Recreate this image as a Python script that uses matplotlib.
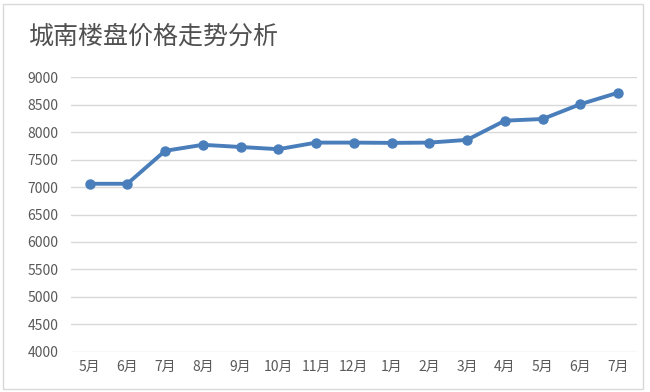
import matplotlib
matplotlib.use("Agg")
import matplotlib.pyplot as plt
from matplotlib.patches import Rectangle

plt.rcParams['font.family'] = ['Noto Sans CJK SC', 'DejaVu Sans']

title = "城南楼盘价格走势分析"
months = ["5月", "6月", "7月", "8月", "9月", "10月", "11月", "12月",
          "1月", "2月", "3月", "4月", "5月", "6月", "7月"]
prices = [7060, 7060, 7660, 7770, 7730, 7690, 7810, 7810,
          7805, 7810, 7860, 8210, 8240, 8510, 8720]
yticks = [4000, 4500, 5000, 5500, 6000, 6500, 7000, 7500, 8000, 8500, 9000]

W, H = 650, 392
fig = plt.figure(figsize=(W / 100, H / 100), dpi=100)

# outer border
fig.patches.append(Rectangle((3 / W, 1 - 389 / H), 640 / W, 385 / H,
                             transform=fig.transFigure, fill=False,
                             edgecolor='#d9d9d9', linewidth=1.0))

ax = fig.add_axes([70.7 / W, 1 - 351.7 / H, (637 - 70.7) / W, (351.7 - 77.3) / H])
x = list(range(len(months)))
ax.plot(x, prices, color='#4A7EBB', linewidth=2.8, marker='o',
        markersize=6.5, markerfacecolor='#4A7EBB', markeredgecolor='#4A7EBB',
        zorder=3, solid_capstyle='round')

ax.set_xlim(-0.5, len(months) - 0.5)
ax.set_ylim(4000, 9000)
ax.set_yticks(yticks)
ax.set_yticklabels([str(v) for v in yticks])
ax.set_xticks(x)
ax.set_xticklabels(months)
ax.grid(axis='y', color='#d9d9d9', linewidth=1.0)
ax.set_axisbelow(True)
for s in ax.spines.values():
    s.set_visible(False)
ax.tick_params(axis='both', length=0, labelsize=10, colors='#595959')
ax.tick_params(axis='y', pad=9)
ax.tick_params(axis='x', pad=6)

fig.text(29 / W, 1 - 37 / H, title, fontsize=18, color='#505050',
         va='center', ha='left', fontweight='medium')

fig.savefig("out.png", dpi=100)
